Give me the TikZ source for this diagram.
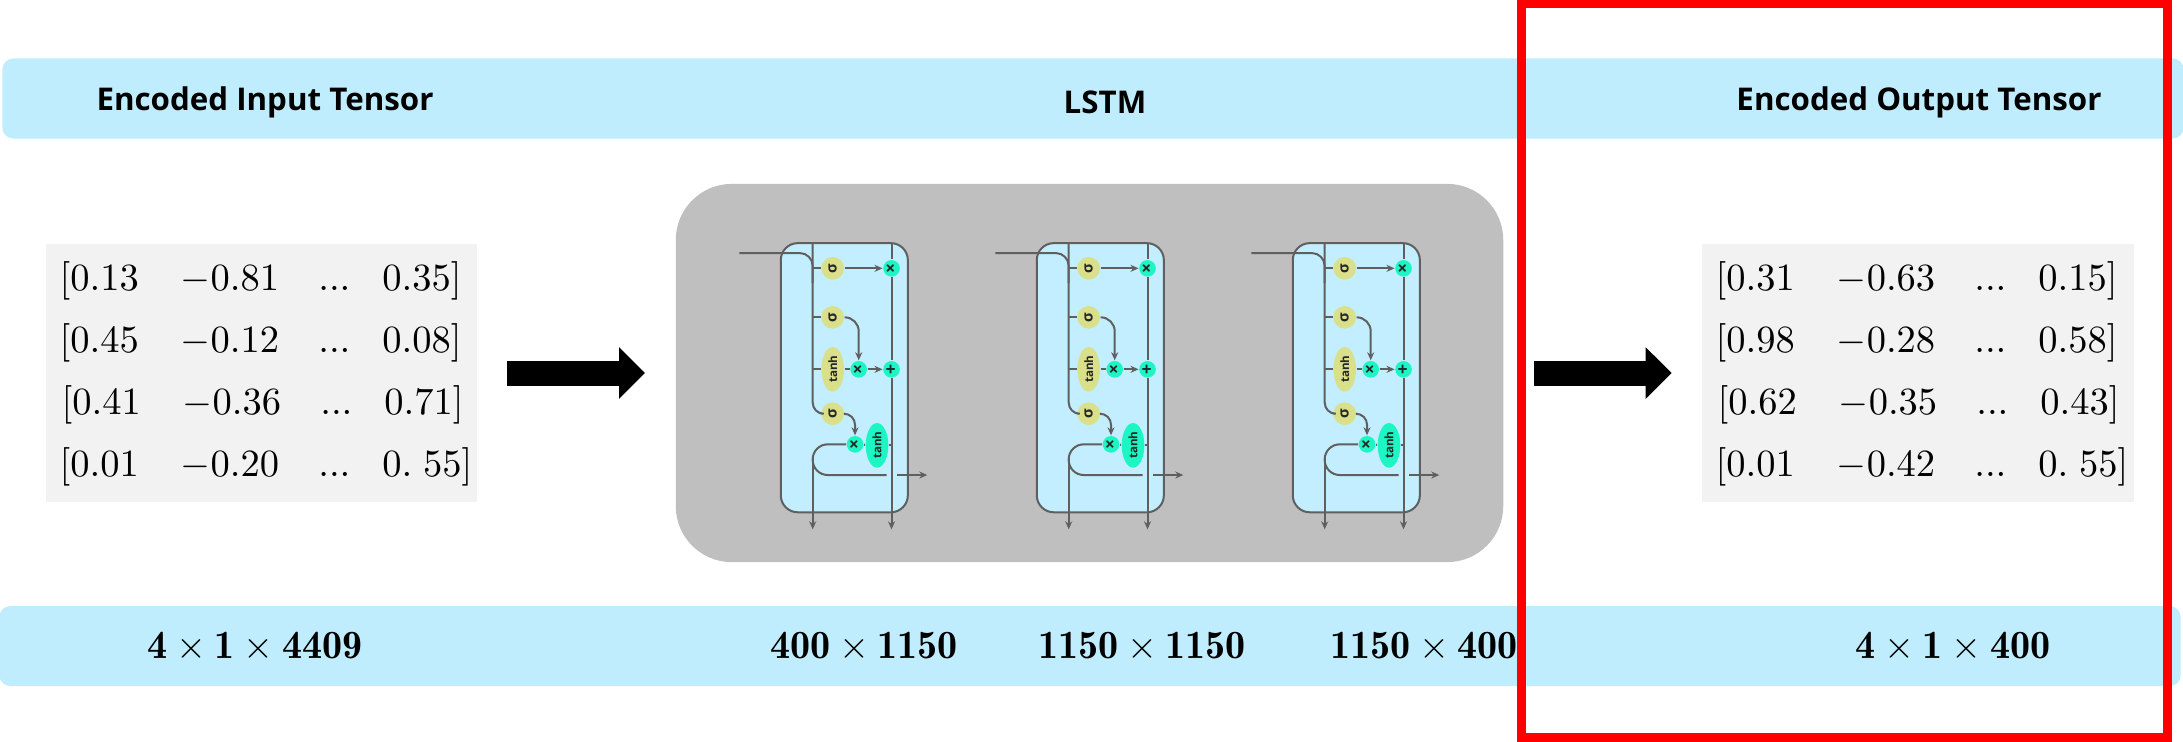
\documentclass[tikz,border=0pt]{standalone}
\usepackage{fontspec}
\setsansfont{Open Sans}
\usetikzlibrary{positioning, arrows.meta, shapes.geometric}

\definecolor{barblue}{HTML}{BFEDFD}
\definecolor{cellblue}{HTML}{C2EEFF}
\definecolor{panelgrey}{HTML}{BFBFBF}
\definecolor{boxgrey}{HTML}{F2F2F2}
\definecolor{wiregrey}{HTML}{5F5F5F}
\definecolor{gateyellow}{HTML}{DADF8A}
\definecolor{gateteal}{HTML}{1EF5C5}

% one line of a tensor: three columns, then the last value and its bracket
\newcommand{\tensorline}[4]{%
  \makebox[1.21cm][l]{$[#1$}\makebox[1.375cm][l]{$-#2$}%
  \makebox[0.64cm][l]{$...$}$#3#4]$}

\begin{document}
\begin{tikzpicture}[
  x=0.01cm, y=-0.01cm,
  >={Stealth[length=0.08cm,width=0.07cm]},
  % --- node styles ---
  bar/.style={
    fill=barblue, rounded corners=0.11cm, inner sep=0pt, minimum height=0.80cm
  },
  heading/.style={
    font=\sffamily\bfseries\fontsize{8.9}{11}\selectfont, inner sep=0pt
  },
  dims/.style={
    font=\fontsize{11.4}{13}\selectfont, inner sep=0pt
  },
  tensorbox/.style={
    fill=boxgrey, inner sep=0pt, minimum width=4.31cm, minimum height=2.58cm
  },
  tensorrow/.style={
    anchor=base west, inner sep=0pt, font=\fontsize{11.2}{13}\selectfont
  },
  cellbox/.style={
    draw=wiregrey, line width=0.02cm, fill=cellblue, rounded corners=0.17cm,
    minimum width=1.27cm, minimum height=2.69cm, inner sep=0pt
  },
  gatetext/.style={
    inner sep=0pt, text=black!85, rotate=90,
    font=\sffamily\bfseries\fontsize{3.3}{3.6}\selectfont
  },
  sigmagate/.style={
    gatetext, circle, fill=gateyellow, minimum size=0.226cm,
    font=\sffamily\bfseries\fontsize{4.2}{4.6}\selectfont
  },
  tanhgate/.style={
    gatetext, ellipse, fill=gateyellow, minimum width=0.446cm, minimum height=0.226cm
  },
  tanhout/.style={
    tanhgate, fill=gateteal
  },
  opgate/.style={
    gatetext, circle, fill=gateteal, minimum size=0.166cm,
    font=\sffamily\bfseries\fontsize{5}{5}\selectfont
  },
  wire/.style={draw=wiregrey, line width=0.02cm},
  arr/.style={wire, ->},
  blockarr/.style={
    -{Triangle[width=0.50cm,length=0.26cm]}, line width=0.25cm, black
  },
]
\useasboundingbox (0,0) rectangle (2183,741);

% ══════════════════════════════════════════════
% BARS
% ══════════════════════════════════════════════

\node[bar, minimum width=21.80cm] (hdrbar) at (1093,98.5) {};
\node[bar, minimum width=21.80cm] (dimbar) at (1090,646) {};

\node[heading] (hdrin) at (265,102) {Encoded Input Tensor};
\node[heading] (hdrlstm) at (1105,102) {LSTM};
\node[heading] (hdrout) at (1919,102) {Encoded Output Tensor};

\node[dims] (dimin) at (255,647) {$\mathbf{4}\times\mathbf{1}\times\mathbf{4409}$};
\node[dims] (dima) at (864,647) {$\mathbf{400}\times\mathbf{1150}$};
\node[dims] (dimb) at (1142,647) {$\mathbf{1150}\times\mathbf{1150}$};
\node[dims] (dimc) at (1424,647) {$\mathbf{1150}\times\mathbf{400}$};
\node[dims] (dimout) at (1953,647) {$\mathbf{4}\times\mathbf{1}\times\mathbf{400}$};

% ══════════════════════════════════════════════
% TENSORS
% ══════════════════════════════════════════════

\node[tensorbox] (inbox) at (261.5,373) {};
\node[tensorrow] (inrowa) at (59,290) {\tensorline{0.13}{0.81}{0.35}{}};
\node[tensorrow] (inrowb) at (59,352) {\tensorline{0.45}{0.12}{0.08}{}};
\node[tensorrow] (inrowc) at (61,414) {\tensorline{0.41}{0.36}{0.71}{}};
\node[tensorrow] (inrowd) at (59,476) {\tensorline{0.01}{0.20}{0.\;}{55}};

\node[tensorbox] (outbox) at (1918,373) {};
\node[tensorrow] (outrowa) at (1715,290) {\tensorline{0.31}{0.63}{0.15}{}};
\node[tensorrow] (outrowb) at (1715,352) {\tensorline{0.98}{0.28}{0.58}{}};
\node[tensorrow] (outrowc) at (1717,414) {\tensorline{0.62}{0.35}{0.43}{}};
\node[tensorrow] (outrowd) at (1715,476) {\tensorline{0.01}{0.42}{0.\;}{55}};

% ══════════════════════════════════════════════
% LSTM CELLS
% ══════════════════════════════════════════════

\node[fill=panelgrey, rounded corners=0.56cm, minimum width=8.27cm,
  minimum height=3.78cm, inner sep=0pt] (panel) at (1089.5,373) {};

\foreach \cid/\cshift in {a/0, b/256, c/512} {
\begin{scope}[shift={(\cshift,0)}]
  \node[cellbox] (\cid box) at (844.3,377.7) {};

  \node[sigmagate] (\cid siga) at (832.7,268.3) {σ};
  \node[sigmagate] (\cid sigb) at (832.7,317.3) {σ};
  \node[tanhgate] (\cid tanha) at (832.7,369.3) {tanh};
  \node[sigmagate] (\cid sigc) at (832.7,413.7) {σ};
  \node[tanhout] (\cid tanhb) at (877,445.3) {tanh};
  \node[opgate] (\cid mula) at (891.5,268.3) {×};
  \node[opgate] (\cid mulb) at (858.7,369.3) {×};
  \node[opgate] (\cid add) at (891.5,369.3) {+};
  \node[opgate] (\cid mulc) at (855,444.3) {×};

  \coordinate (\cid left) at (812.7,243.3);
  \coordinate (\cid right) at (891.5,243.3);
  \coordinate (\cid in) at (739.3,253);
  \coordinate (\cid drop) at (812.7,459);
  \coordinate (\cid bota) at (812.7,529.3);
  \coordinate (\cid botb) at (891.5,529.3);
  \coordinate (\cid outa) at (886.7,475);
  \coordinate (\cid outb) at (897.3,475);
  \coordinate (\cid outc) at (927.3,475);

  % left rail and what hangs from it
  \draw[wire, rounded corners=0.13cm] (\cid in) -- (\cid in -| \cid left) -- ++(0,30);
  \draw[wire, rounded corners=0.11cm] (\cid left) -- (\cid left |- \cid sigc.center) -- (\cid sigc.north);
  \draw[wire] (\cid siga.north -| \cid left) -- (\cid siga.north);
  \draw[wire] (\cid sigb.north -| \cid left) -- (\cid sigb.north);
  \draw[wire] (\cid tanha.north -| \cid left) -- (\cid tanha.north);
  \draw[arr] (\cid drop) -- (\cid bota);

  % right rail
  \draw[wire] (\cid right) -- (\cid mula);
  \draw[wire] (\cid mula) -- (\cid add);
  \draw[arr] (\cid add) -- (\cid botb);
  \draw[wire] (\cid tanhb.south) -- (\cid tanhb.south -| \cid right);

  % gates
  \draw[arr] (\cid siga) -- (\cid mula);
  \draw[arr, rounded corners=0.14cm] (\cid sigb.south) -| (\cid mulb);
  \draw[wire] (\cid tanha) -- (\cid mulb);
  \draw[arr] (\cid mulb) -- (\cid add);
  \draw[arr, rounded corners=0.11cm] (\cid sigc.south) -| (\cid mulc);
  \draw[wire] (\cid mulc) -- (\cid tanhb);

  % feedback loop and output
  \draw[wire, rounded corners=0.15cm] (\cid mulc.north) -- (\cid mulc.north -| \cid left)
    -- (\cid outa -| \cid left) -- (\cid outa);
  \draw[arr] (\cid outb) -- (\cid outc);
\end{scope}
}

% ══════════════════════════════════════════════
% BLOCK ARROWS
% ══════════════════════════════════════════════

\draw[blockarr] ([xshift=0.295cm]inbox.east) -- ([xshift=-0.30cm]panel.west);
\draw[blockarr] ([xshift=0.30cm]panel.east) -- ([xshift=-0.30cm]outbox.west);

% ══════════════════════════════════════════════
% RED FRAME
% ══════════════════════════════════════════════

\node[draw=red, line width=0.09cm, minimum width=6.46cm, minimum height=7.33cm,
  inner sep=0pt] (redframe) at (1844.5,370.5) {};

\end{tikzpicture}
\end{document}
